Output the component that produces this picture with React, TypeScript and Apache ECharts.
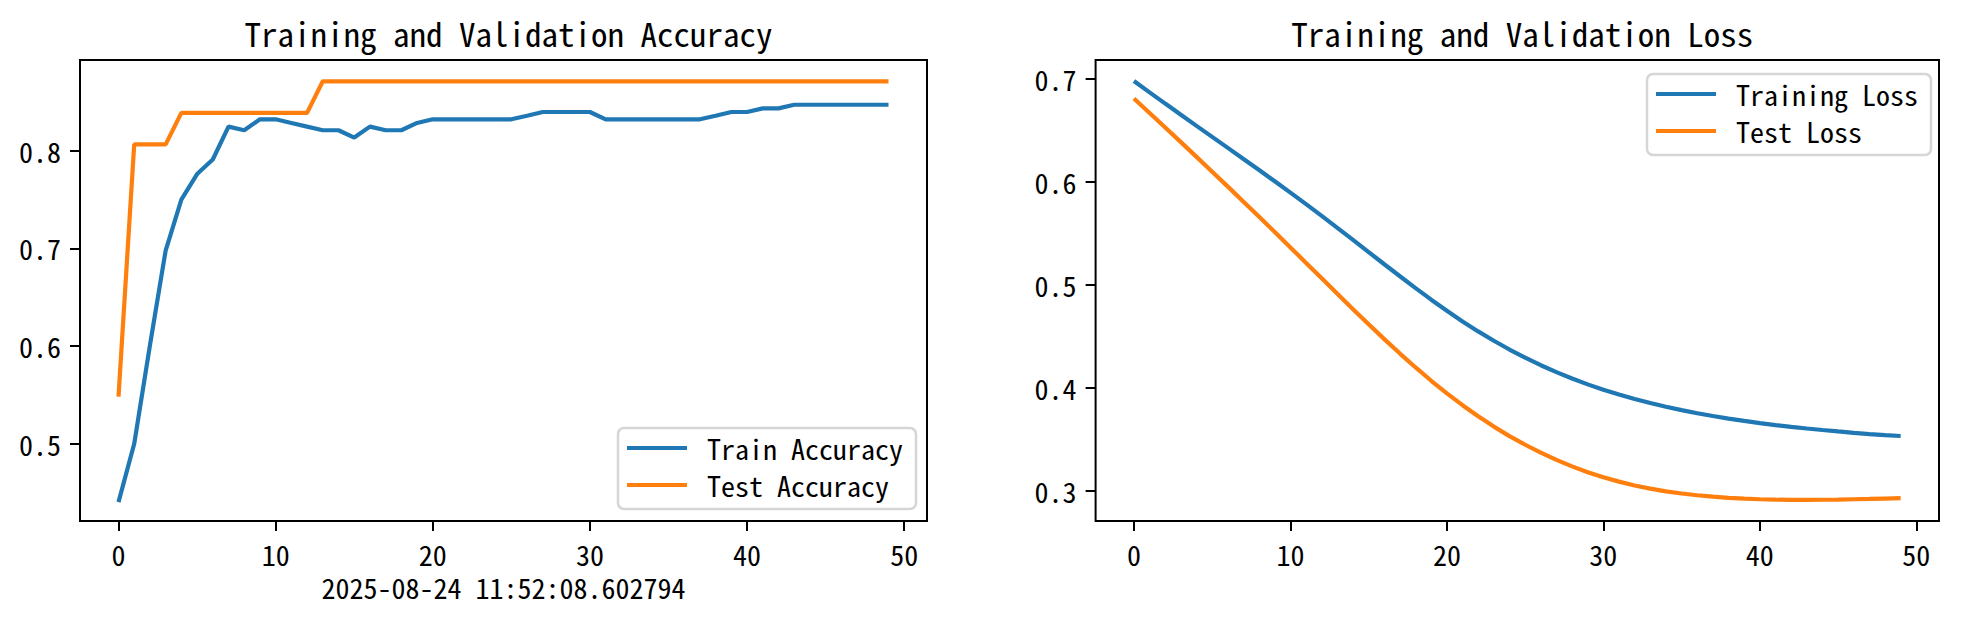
import React, { useEffect, useRef } from "react";
import * as echarts from "echarts";

const epochs: number[] = Array.from({ length: 50 }, (_, i) => i);

const trainAcc: number[] = [
  0.4403, 0.5, 0.6007, 0.6978, 0.75, 0.7761, 0.791, 0.8246, 0.8209, 0.8321,
  0.8321, 0.8284, 0.8246, 0.8209, 0.8209, 0.8134, 0.8246, 0.8209, 0.8209, 0.8284,
  0.8321, 0.8321, 0.8321, 0.8321, 0.8321, 0.8321, 0.8358, 0.8396, 0.8396, 0.8396,
  0.8396, 0.8321, 0.8321, 0.8321, 0.8321, 0.8321, 0.8321, 0.8321, 0.8358, 0.8396,
  0.8396, 0.8433, 0.8433, 0.847, 0.847, 0.847, 0.847, 0.847, 0.847, 0.847,
];

const testAcc: number[] = [
  0.5484, 0.8065, 0.8065, 0.8065, 0.8387, 0.8387, 0.8387, 0.8387, 0.8387, 0.8387,
  0.8387, 0.8387, 0.8387, 0.871, 0.871, 0.871, 0.871, 0.871, 0.871, 0.871,
  0.871, 0.871, 0.871, 0.871, 0.871, 0.871, 0.871, 0.871, 0.871, 0.871,
  0.871, 0.871, 0.871, 0.871, 0.871, 0.871, 0.871, 0.871, 0.871, 0.871,
  0.871, 0.871, 0.871, 0.871, 0.871, 0.871, 0.871, 0.871, 0.871, 0.871,
];

const trainLoss: number[] = [
  0.698, 0.687, 0.6761, 0.6653, 0.6545, 0.6438, 0.6331, 0.6224, 0.6116, 0.6007,
  0.5897, 0.5785, 0.5671, 0.5555, 0.5438, 0.532, 0.5202, 0.5085, 0.497, 0.4858,
  0.475, 0.4647, 0.455, 0.4459, 0.4374, 0.4295, 0.4222, 0.4155, 0.4093, 0.4036,
  0.3984, 0.3937, 0.3894, 0.3855, 0.3819, 0.3786, 0.3756, 0.3729, 0.3704, 0.3681,
  0.366, 0.3641, 0.3624, 0.3608, 0.3593, 0.3579, 0.3566, 0.3554, 0.3543, 0.3535,
];

const testLoss: number[] = [
  0.681, 0.667, 0.6529, 0.6387, 0.6244, 0.61, 0.5955, 0.5809, 0.5662, 0.5514,
  0.5365, 0.5215, 0.5065, 0.4915, 0.4766, 0.4619, 0.4475, 0.4335, 0.42, 0.4071,
  0.3949, 0.3834, 0.3726, 0.3626, 0.3534, 0.345, 0.3373, 0.3303, 0.324, 0.3184,
  0.3135, 0.3092, 0.3055, 0.3024, 0.2998, 0.2977, 0.296, 0.2946, 0.2935, 0.2927,
  0.2921, 0.2917, 0.2915, 0.2915, 0.2916, 0.2918, 0.2921, 0.2924, 0.2928, 0.2932,
];

const xTicks: number[] = [0, 10, 20, 30, 40, 50];
const accTicks: number[] = [0.5, 0.6, 0.7, 0.8];
const lossTicks: number[] = [0.3, 0.4, 0.5, 0.6, 0.7];

const accTitle = "Training and Validation Accuracy";
const lossTitle = "Training and Validation Loss";
const timestampLabel = "2025-08-24 11:52:08.602794";

const FONT = "'Noto Sans Mono CJK SC', 'Noto Sans CJK SC', monospace";
const BLUE = "#1f77b4";
const ORANGE = "#ff7f0e";

function pairs(ys: number[]) {
  return epochs.map((x, i) => [x, ys[i]]);
}

export default function App() {
  const ref = useRef<HTMLDivElement>(null);

  useEffect(() => {
    if (!ref.current) return;
    const chart = echarts.init(ref.current, null, { renderer: "svg" });

    const tickStyle = { color: "#000", fontSize: 28, fontFamily: FONT };
    const xAxisBase = (gridIndex: number, name?: string) => ({
      type: "value" as const,
      gridIndex,
      min: -2.45,
      max: 51.45,
      name: name,
      nameLocation: "middle" as const,
      nameGap: 52,
      nameTextStyle: { color: "#000", fontSize: 28, fontFamily: FONT, lineHeight: 24 },
      axisLine: { show: false, onZero: false },
      axisTick: {
        show: true,
        length: 10,
        lineStyle: { color: "#000", width: 2 },
        customValues: xTicks,
      },
      axisLabel: {
        ...tickStyle,
        margin: 19,
        customValues: xTicks,
        formatter: (v: number) => String(v),
      },
      splitLine: { show: false },
    });
    const yAxisBase = (gridIndex: number, min: number, max: number, ticks: number[]) => ({
      type: "value" as const,
      gridIndex,
      min,
      max,
      axisLine: { show: false, onZero: false },
      axisTick: {
        show: true,
        length: 10,
        lineStyle: { color: "#000", width: 2 },
        customValues: ticks,
      },
      axisLabel: {
        ...tickStyle,
        margin: 19,
        customValues: ticks,
        formatter: (v: number) => v.toFixed(1),
      },
      splitLine: { show: false },
    });

    const legendBase = {
      orient: "vertical" as const,
      icon: "rect",
      itemWidth: 60,
      itemHeight: 4,
      itemGap: 9,
      backgroundColor: "#fff",
      borderColor: "#d6d6d6",
      borderWidth: 2.5,
      borderRadius: 6,
      padding: [6, 13, 10, 9],
      textStyle: {
        color: "#000",
        fontSize: 28,
        fontFamily: FONT,
        lineHeight: 28,
        padding: [0, 0, 0, 15],
      },
    };

    const lineSeries = (name: string, ys: number[], color: string, idx: number) => ({
      type: "line" as const,
      name,
      xAxisIndex: idx,
      yAxisIndex: idx,
      data: pairs(ys),
      showSymbol: false,
      symbol: "none",
      lineStyle: { color, width: 4.2 },
      itemStyle: { color },
    });

    chart.setOption({
      animation: false,
      backgroundColor: "#fff",
      title: [
        {
          text: accTitle,
          left: 503.5,
          top: 11,
          textAlign: "center",
          textStyle: { color: "#000", fontSize: 33, fontWeight: "normal", fontFamily: FONT },
        },
        {
          text: lossTitle,
          left: 1517.3,
          top: 11,
          textAlign: "center",
          textStyle: { color: "#000", fontSize: 33, fontWeight: "normal", fontFamily: FONT },
        },
      ],
      legend: [
        {
          ...legendBase,
          data: ["Train Accuracy", "Test Accuracy"],
          left: 618,
          top: 428,
        },
        {
          ...legendBase,
          data: ["Training Loss", "Test Loss"],
          left: 1647,
          top: 74,
        },
      ],
      grid: [
        {
          left: 80,
          top: 60,
          width: 847,
          height: 461,
          show: true,
          borderColor: "#000",
          borderWidth: 2,
          backgroundColor: "transparent",
          outerBoundsMode: "none",
        },
        {
          left: 1095.6,
          top: 60,
          width: 843.4,
          height: 461,
          show: true,
          borderColor: "#000",
          borderWidth: 2,
          backgroundColor: "transparent",
          outerBoundsMode: "none",
        },
      ],
      xAxis: [xAxisBase(0, timestampLabel), xAxisBase(1)],
      yAxis: [
        yAxisBase(0, 0.421, 0.8928, accTicks),
        yAxisBase(1, 0.271, 0.7184, lossTicks),
      ],
      series: [
        lineSeries("Train Accuracy", trainAcc, BLUE, 0),
        lineSeries("Test Accuracy", testAcc, ORANGE, 0),
        lineSeries("Training Loss", trainLoss, BLUE, 1),
        lineSeries("Test Loss", testLoss, ORANGE, 1),
      ],
    });

    return () => {
      chart.dispose();
    };
  }, []);

  return (
    <div
      ref={ref}
      style={{ position: "fixed", left: 0, top: 0, width: 1961, height: 617, background: "#fff" }}
    />
  );
}
